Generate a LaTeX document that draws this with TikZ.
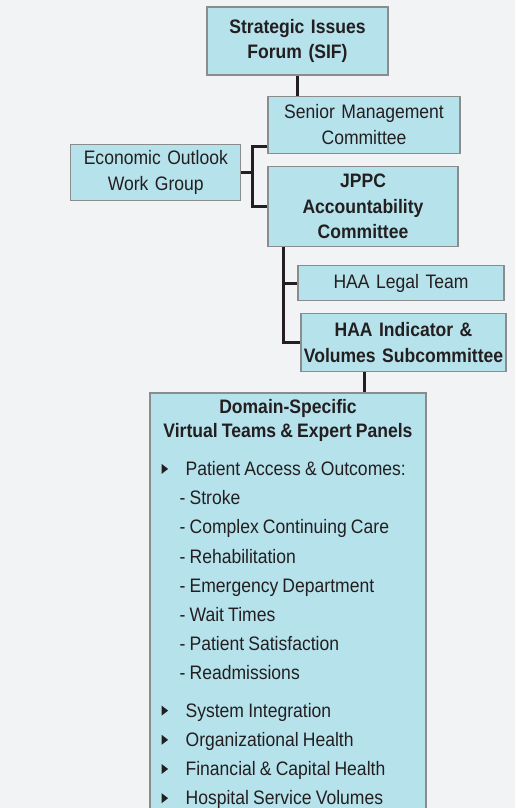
\documentclass[tikz,border=0pt]{standalone}
\usepackage{fontspec}
\setmainfont{Liberation Sans}[FakeStretch=0.9, WordSpace=0.85]
\usepackage{xcolor}
\usepackage{tikz}
\usetikzlibrary{positioning}
\definecolor{pagebg}{HTML}{F2F3F5}
\definecolor{unitfill}{HTML}{B6E2EC}
\definecolor{unitline}{HTML}{8A8C8E}
\definecolor{linkcol}{HTML}{231F20}
\newcommand\unitfont{\fontsize{19.5}{25.7}\selectfont}
\newcommand\panelmark{\tikz[baseline=-1.5pt]\fill (0pt,0pt) -- (0pt,10pt) -- (6.5pt,5pt) -- cycle;}
\tikzstyle{unit}=[rectangle, draw=unitline, fill=unitfill, line width=1.2pt,
        text centered, inner sep=0pt, text=linkcol, font=\unitfont]
\tikzstyle{headunit}=[unit, font=\unitfont\bfseries]
\tikzstyle{link}=[draw=linkcol, line width=3pt]

\begin{document}
\begin{tikzpicture}[x=1pt, y=1pt, node distance=20pt]
        \useasboundingbox[fill=pagebg] (0,0) rectangle (515,-808);
        \clip (0,0) rectangle (515,-808);
        \node (sif) [headunit, text width=181pt, minimum height=68pt] at (297.5,-41)
        {Strategic Issues\\Forum (SIF)};
        \node (senior) [unit, text width=192pt, minimum height=57pt, below=20pt of sif, xshift=66.5pt]
        {Senior Management\\Committee};
        \node (jppc) [headunit, text width=190pt, minimum height=80pt, below=12pt of senior, xshift=-1pt]
        {JPPC\\Accountability\\Committee};
        \node (econ) [unit, text width=170pt, minimum height=56pt, left=26pt of jppc.north west, yshift=-7pt]
        {Economic Outlook\\Work Group};
        \node (legal) [unit, text width=206pt, minimum height=35pt, below=18pt of jppc, xshift=38pt]
        {HAA Legal Team};
        \node (indicator) [headunit, text width=205pt, minimum height=58pt, below=12pt of legal, xshift=2.5pt]
        {HAA Indicator \&\\Volumes Subcommittee};
        \node (domain) [unit, text width=276pt, minimum height=440pt, below=20pt of indicator, xshift=-115.5pt] {};
        \node (domainhead) [anchor=base, inner sep=0pt, text=linkcol, font=\fontsize{19.5}{24}\selectfont\bfseries]
          at ([yshift=-20.7pt]domain.north)
        {\begin{tabular}[t]{@{}c@{}}
          Domain-Specific\\
          Virtual Teams \& Expert Panels
        \end{tabular}};
        \node (panels) [anchor=base west, inner sep=0pt, text=linkcol, font=\fontsize{19.5}{29.2}\selectfont]
          at ([xshift=12pt, yshift=-83pt]domain.north west)
        {\begin{tabular}[t]{@{}l@{}}
          \makebox[24pt][l]{\panelmark}Patient Access \& Outcomes:\\
          \hspace*{18pt}- Stroke\\
          \hspace*{18pt}- Complex Continuing Care\\
          \hspace*{18pt}- Rehabilitation\\
          \hspace*{18pt}- Emergency Department\\
          \hspace*{18pt}- Wait Times\\
          \hspace*{18pt}- Patient Satisfaction\\
          \hspace*{18pt}- Readmissions\\[8.1pt]
          \makebox[24pt][l]{\panelmark}System Integration\\
          \makebox[24pt][l]{\panelmark}Organizational Health\\
          \makebox[24pt][l]{\panelmark}Financial \& Capital Health\\
          \makebox[24pt][l]{\panelmark}Hospital Service Volumes
        \end{tabular}};
        % connectors
        \coordinate (bend) at ([xshift=11pt]econ.east);
        \coordinate (spine) at ([xshift=16pt]jppc.south west);
        \coordinate (drop) at ([xshift=-39.5pt]indicator.south);
        \draw [link] (sif.south) -- (sif.south |- senior.north);
        \draw [link] (econ.east) -- (bend);
        \draw [link] ([yshift=7pt]senior.south west) -| (bend |- jppc.west) -- (jppc.west);
        \draw [link] (spine) |- (indicator.west);
        \draw [link] (spine |- legal.west) -- (legal.west);
        \draw [link] (drop) -- (drop |- domain.north);
      \end{tikzpicture}
\end{document}
